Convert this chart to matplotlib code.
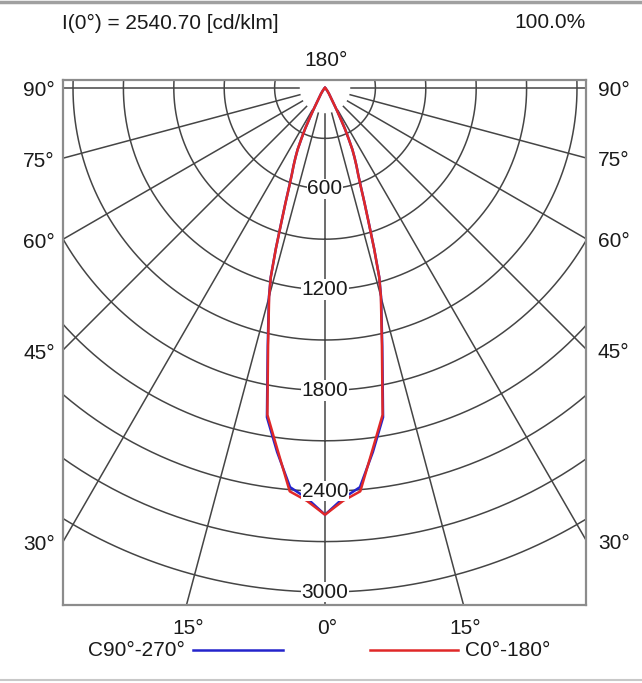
import numpy as np
import matplotlib.pyplot as plt
import matplotlib.transforms as mtransforms
from matplotlib.lines import Line2D

plt.rcParams['font.family'] = ['Liberation Sans', 'DejaVu Sans']

# luminous intensity [cd/klm] vs gamma angle [deg] (0 = straight down)
gamma = [0, 2.5, 5, 7.5, 10, 12.5, 15, 16, 17, 18, 19, 20, 21, 22, 23, 24,
         25, 26, 27, 28, 29, 30, 32.5, 35, 40, 45, 60, 90]
i_c0_180 = [2540, 2460, 2410, 2170, 1975, 1565, 1285, 1170, 1000, 840, 720,
            620, 550, 500, 450, 400, 330, 270, 200, 150, 110, 85, 55, 40,
            20, 10, 3, 0]
i_c90_270 = [2540, 2445, 2385, 2185, 1990, 1575, 1290, 1172, 1002, 842, 722,
             622, 551, 501, 451, 401, 331, 271, 201, 151, 111, 86, 55, 40,
             20, 10, 3, 0]

rings = list(range(300, 3001, 300))
ring_labels = [600, 1200, 1800, 2400, 3000]
spokes = list(range(-90, 91, 15))
side_labels = [90, 75, 60, 45, 30]
bottom_labels = [-15, 0, 15]

title = 'I(0°) = 2540.70 [cd/klm]'
ratio = '100.0%'

W, H = 642, 683
k = 0.168  # px per cd
cx, cy = 325, 88
left, right, top, bottom = 63, 586, 80, 605

fig = plt.figure(figsize=(W / 100, H / 100), dpi=100)
ax = fig.add_axes([left / W, 1 - bottom / H, (right - left) / W, (bottom - top) / H])
xmin, xmax = (left - cx) / k, (right - cx) / k
ymin, ymax = -(bottom - cy) / k, (cy - top) / k
ax.set_xlim(xmin, xmax)
ax.set_ylim(ymin, ymax)
ax.set_xticks([])
ax.set_yticks([])
for s in ax.spines.values():
    s.set_color('#8c8c8c')
    s.set_linewidth(1.6)

grid_kw = dict(color='#454545', lw=1.1, zorder=1)
t = np.linspace(0, 2 * np.pi, 721)
for r in rings:
    ax.plot(r * np.sin(t), -r * np.cos(t), **grid_kw)
for a in spokes:
    ar = np.radians(a)
    rr = np.array([155, 5000])
    ax.plot(rr * np.sin(ar), -rr * np.cos(ar), **grid_kw)


def curve(gam, inten):
    g = np.radians(np.concatenate([-np.array(gam[::-1]), np.array(gam[1:])]))
    v = np.concatenate([np.array(inten[::-1]), np.array(inten[1:])])
    return v * np.sin(g), -v * np.cos(g)


blue = '#2424cc'
red = '#e02828'
xb, yb = curve(gamma, i_c90_270)
ax.plot(xb, yb, color=blue, lw=1.8, zorder=3)
xr, yr = curve(gamma, i_c0_180)
ax.plot(xr, yr, color=red, lw=1.8, zorder=4)

fs = 15
tc = '#1a1a1a'
for r in ring_labels:
    ax.text(0, -r, str(r), ha='center', va='center', fontsize=fs, color=tc,
            zorder=5, bbox=dict(fc='white', ec='none', pad=0.5))

ylab = mtransforms.blended_transform_factory(ax.transAxes, ax.transData)
for a in side_labels:
    yd = 0 if a == 90 else xmin / np.tan(np.radians(a))
    ax.annotate(f'{a}°', xy=(0, yd), xycoords=ylab, xytext=(-8, -3),
                textcoords='offset pixels', ha='right', va='center', fontsize=fs,
                color=tc, annotation_clip=False)
    yd = 0 if a == 90 else -xmax / np.tan(np.radians(a))
    ax.annotate(f'{a}°', xy=(1, yd), xycoords=ylab, xytext=(12, -3),
                textcoords='offset pixels', ha='left', va='center', fontsize=fs,
                color=tc, annotation_clip=False)

xlab = mtransforms.blended_transform_factory(ax.transData, ax.transAxes)
for a in bottom_labels:
    xd = -ymin * np.tan(np.radians(a))
    ax.annotate(f'{abs(a)}°', xy=(xd, 0), xycoords=xlab, xytext=(2, -23),
                textcoords='offset pixels', ha='center', va='center', fontsize=fs,
                color=tc, annotation_clip=False)

fig.text(62 / W, 1 - 23 / H, title, ha='left', va='center', fontsize=fs, color=tc)
fig.text(586 / W, 1 - 23 / H, ratio, ha='right', va='center', fontsize=fs, color=tc)
fig.text(326 / W, 1 - 60 / H, '180°', ha='center', va='center', fontsize=fs, color=tc)

# legend row
ly = 1 - 650 / H
fig.text(185 / W, ly, 'C90°-270°', ha='right', va='center', fontsize=fs, color=tc)
fig.add_artist(Line2D([193 / W, 283 / W], [ly, ly], color=blue, lw=1.8))
fig.add_artist(Line2D([370 / W, 458 / W], [ly, ly], color=red, lw=1.8))
fig.text(465 / W, ly, 'C0°-180°', ha='left', va='center', fontsize=fs, color=tc)

# thin page borders
fig.add_artist(Line2D([0, 1], [1 - 2 / H, 1 - 2 / H], color='#a0a0a0', lw=2.5))
fig.add_artist(Line2D([0, 1], [1 - 680 / H, 1 - 680 / H], color='#c8c8c8', lw=1.5))

fig.savefig('out.png', dpi=100)
